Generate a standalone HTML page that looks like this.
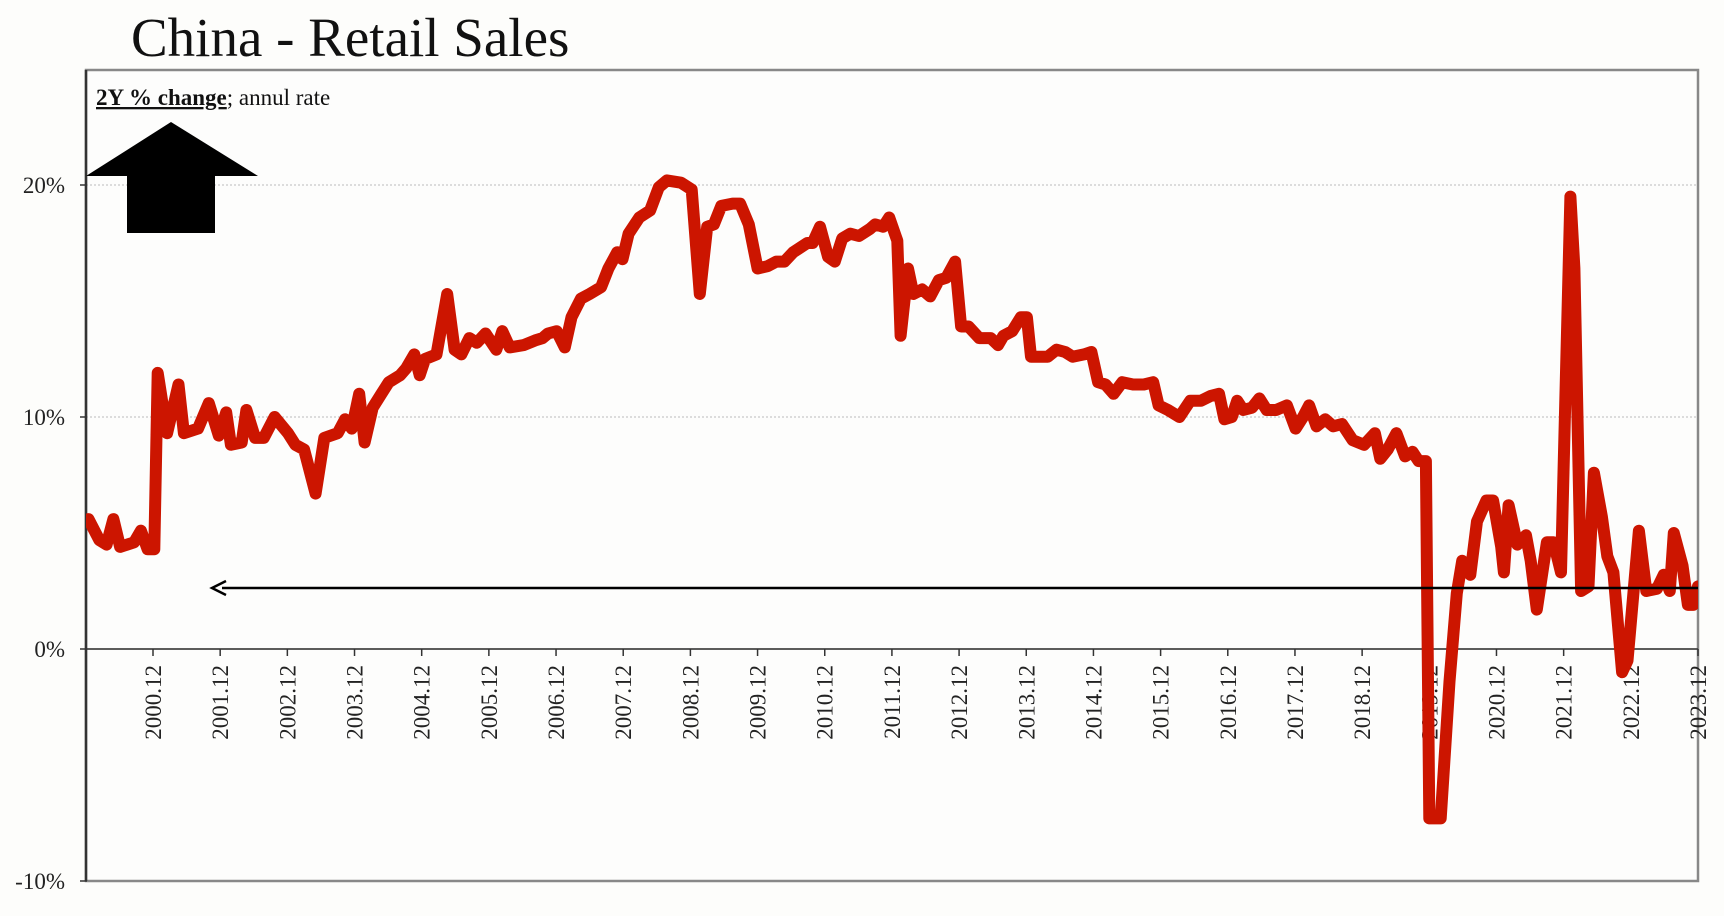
<!DOCTYPE html>
<html><head><meta charset="utf-8">
<style>
html,body{margin:0;padding:0;background:#fdfdfb;}
body{width:1724px;height:916px;overflow:hidden;font-family:"Liberation Serif",serif;}
</style></head>
<body>
<svg id="chart" width="1724" height="916" xmlns="http://www.w3.org/2000/svg" style="position:absolute;left:0;top:0">
  <rect x="0" y="0" width="1724" height="916" fill="#fdfdfb"/>
  <text x="131" y="56" font-family="Liberation Serif, serif" font-size="55" fill="#111">China - Retail Sales</text>
  <rect x="86" y="70" width="1612" height="811" fill="#fdfdfc" stroke="#888" stroke-width="2.5"/>
  <g id="grid"></g>
  <g id="axes"></g>
  <defs><clipPath id="plotclip"><rect x="86" y="70" width="1612" height="811"/></clipPath></defs>
  <g id="series" clip-path="url(#plotclip)"></g>
  <text x="96" y="105" font-family="Liberation Serif, serif" font-size="23" fill="#111"><tspan font-weight="bold" text-decoration="underline">2Y % change</tspan>; annul rate</text>
  <polygon points="171,122 258,176 215,176 215,233 127,233 127,176 86,176" fill="#000"/>
  <g id="annot"></g>
</svg>
<script>
const yTicks = [20, 10, 0, -10];
const yTickLabels = ["20%", "10%", "0%", "-10%"];
const xTickYears = [2001,2002,2003,2004,2005,2006,2007,2008,2009,2010,2011,2012,2013,2014,2015,2016,2017,2018,2019,2020,2021,2022,2023,2024];
const xTickLabels = ["2000.12","2001.12","2002.12","2003.12","2004.12","2005.12","2006.12","2007.12","2008.12","2009.12","2010.12","2011.12","2012.12","2013.12","2014.12","2015.12","2016.12","2017.12","2018.12","2019.12","2020.12","2021.12","2022.12","2023.12"];
const dates = [2000.04,2000.20,2000.31,2000.41,2000.51,2000.72,2000.82,2000.92,2001.02,2001.07,2001.21,2001.38,2001.46,2001.67,2001.83,2001.98,2002.09,2002.16,2002.32,2002.39,2002.52,2002.65,2002.81,2003.01,2003.12,2003.25,2003.42,2003.55,2003.75,2003.86,2003.96,2004.07,2004.15,2004.27,2004.40,2004.51,2004.68,2004.77,2004.89,2004.97,2005.05,2005.22,2005.38,2005.49,2005.59,2005.71,2005.82,2005.95,2006.11,2006.20,2006.31,2006.52,2006.69,2006.80,2006.88,2007.01,2007.13,2007.23,2007.37,2007.50,2007.67,2007.78,2007.91,2007.99,2008.08,2008.24,2008.40,2008.53,2008.65,2008.86,2009.02,2009.14,2009.25,2009.35,2009.46,2009.63,2009.74,2009.87,2010.00,2010.15,2010.28,2010.40,2010.53,2010.74,2010.82,2010.93,2011.05,2011.15,2011.26,2011.38,2011.51,2011.67,2011.75,2011.87,2011.96,2012.08,2012.13,2012.24,2012.32,2012.45,2012.57,2012.70,2012.81,2012.94,2013.03,2013.14,2013.30,2013.47,2013.58,2013.66,2013.79,2013.92,2014.01,2014.07,2014.20,2014.32,2014.45,2014.58,2014.69,2014.86,2014.97,2015.07,2015.18,2015.30,2015.43,2015.59,2015.75,2015.89,2015.97,2016.11,2016.28,2016.44,2016.60,2016.74,2016.87,2016.95,2017.06,2017.14,2017.23,2017.36,2017.47,2017.58,2017.72,2017.88,2018.01,2018.12,2018.21,2018.32,2018.45,2018.57,2018.70,2018.86,2019.03,2019.19,2019.27,2019.38,2019.51,2019.64,2019.75,2019.84,2019.95,2020.00,2020.17,2020.30,2020.41,2020.49,2020.61,2020.71,2020.85,2020.95,2021.07,2021.11,2021.18,2021.31,2021.44,2021.51,2021.60,2021.75,2021.85,2021.96,2022.10,2022.16,2022.26,2022.37,2022.45,2022.57,2022.65,2022.74,2022.87,2022.95,2023.12,2023.23,2023.39,2023.49,2023.58,2023.64,2023.77,2023.85,2023.93,2024.00];
const values = [5.6,4.7,4.5,5.6,4.4,4.6,5.1,4.3,4.3,11.9,9.3,11.4,9.3,9.5,10.6,9.2,10.2,8.8,8.9,10.3,9.1,9.1,10.0,9.3,8.8,8.6,6.7,9.1,9.3,9.9,9.5,11.0,8.9,10.4,11.0,11.5,11.8,12.1,12.7,11.8,12.5,12.7,15.3,12.9,12.7,13.4,13.2,13.6,12.9,13.7,13.0,13.1,13.3,13.4,13.6,13.7,13.0,14.3,15.1,15.3,15.6,16.4,17.1,16.8,17.9,18.6,18.9,19.9,20.2,20.1,19.8,15.3,18.2,18.3,19.1,19.2,19.2,18.3,16.4,16.5,16.7,16.7,17.1,17.5,17.5,18.2,16.9,16.7,17.7,17.9,17.8,18.1,18.3,18.2,18.6,17.6,13.5,16.4,15.3,15.5,15.2,15.9,16.0,16.7,13.9,13.9,13.4,13.4,13.1,13.5,13.7,14.3,14.3,12.6,12.6,12.6,12.9,12.8,12.6,12.7,12.8,11.5,11.4,11.0,11.5,11.4,11.4,11.5,10.5,10.3,10.0,10.7,10.7,10.9,11.0,9.9,10.0,10.7,10.3,10.4,10.8,10.3,10.3,10.5,9.5,10.0,10.5,9.6,9.9,9.6,9.7,9.0,8.8,9.3,8.2,8.6,9.3,8.3,8.5,8.1,8.1,-7.3,-7.3,-1.4,2.4,3.8,3.2,5.5,6.4,6.4,4.4,3.3,6.2,4.5,4.9,3.8,1.7,4.6,4.6,3.3,19.5,16.4,2.5,2.7,7.6,5.7,4.0,3.3,-1.0,-0.5,5.1,2.5,2.6,3.2,2.5,5.0,3.6,1.9,1.9,2.7];
const refLineValue = [2.63];

const NS = "http://www.w3.org/2000/svg";
const X0 = 153, PXY = (1698 - 153) / 23;
function xScale(t){ return X0 + (t - 2001) * PXY; }
function yScale(v){ return 649 - v * 23.2; }
function mk(tag, attrs, parent){ const e = document.createElementNS(NS, tag); for (const k in attrs) e.setAttribute(k, attrs[k]); parent.appendChild(e); return e; }

const grid = document.getElementById('grid'), axes = document.getElementById('axes');
yTicks.forEach((v, i) => {
  const y = yScale(v);
  if (v > 0) {
    const g = mk('line', {x1: 86, x2: 1698, y1: y, y2: y, stroke: '#bbb', 'stroke-width': 1, 'stroke-dasharray': '2,2'}, grid);
    
    
  }
  const tk = mk('line', {x1: 80, x2: 87, y1: y, y2: y, stroke: '#333', 'stroke-width': 1.5}, axes);
  
  
  const t = mk('text', {x: 65, y: y + 8, 'text-anchor': 'end', 'font-size': 23, 'font-family': 'Liberation Serif, serif', fill: '#222'}, axes);
  t.textContent = yTickLabels[i];
  
  
});
const zl = mk('line', {x1: 86, x2: 1698, y1: yScale(0), y2: yScale(0), stroke: '#444', 'stroke-width': 1.8}, axes);


const la = mk('line', {x1: 86, x2: 86, y1: 70, y2: 881, stroke: '#333', 'stroke-width': 2.5}, axes);


xTickYears.forEach((yr, i) => {
  const x = xScale(yr), y0 = yScale(0);
  const tk = mk('line', {x1: x, x2: x, y1: y0, y2: y0 + 7, stroke: '#333', 'stroke-width': 1.5}, axes);
  
  
  const t = mk('text', {x: 0, y: 0, 'text-anchor': 'end', 'font-size': 23, 'font-family': 'Liberation Serif, serif', fill: '#222', transform: 'translate(' + (x + 8) + ',' + (y0 + 16) + ') rotate(-90)'}, axes);
  t.textContent = xTickLabels[i];
  
  
});

const series = document.getElementById('series');
const pts = dates.map((d, i) => xScale(d).toFixed(1) + ',' + yScale(values[i]).toFixed(1)).join(' ');
const line = mk('polyline', {points: pts, fill: 'none', stroke: '#cc1500', 'stroke-width': 12, 'stroke-linejoin': 'round', 'stroke-linecap': 'round'}, series);



const annot = document.getElementById('annot');
const ry = yScale(refLineValue[0]);
const rl = mk('line', {x1: 222, x2: 1698, y1: ry, y2: ry, stroke: '#000', 'stroke-width': 2.5}, annot);


const rh = mk('polyline', {points: (226) + ',' + (ry - 7) + ' 212,' + ry + ' ' + (226) + ',' + (ry + 7), fill: 'none', stroke: '#000', 'stroke-width': 2.5}, annot);


</script>
</body></html>
